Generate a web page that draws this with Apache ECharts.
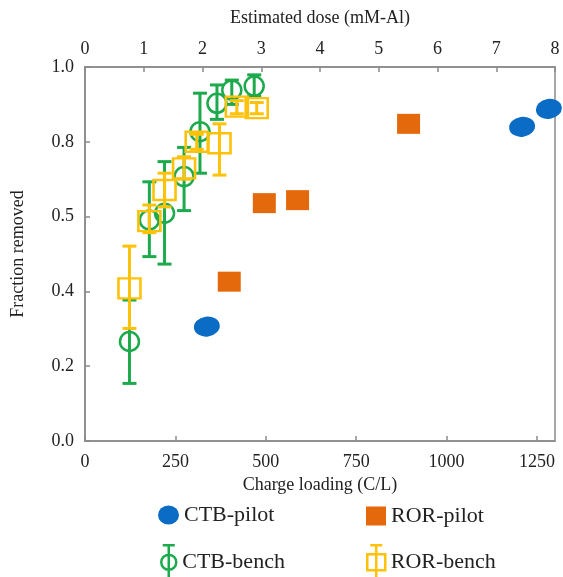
<!DOCTYPE html>
<html>
<head>
<meta charset="utf-8">
<script src="https://cdn.jsdelivr.net/npm/echarts@6/dist/echarts.min.js"></script>
<style>
  html, body { margin: 0; padding: 0; background: #fff; }
  #chart { width: 563px; height: 577px; }
</style>
</head>
<body>
<div id="chart"></div>
<script>
// values
const ctbPilotX = [337, 1209, 1283];
const ctbPilotY = [0.306, 0.840, 0.888];

const rorPilotX = [399, 496, 588, 895];
const rorPilotY = [0.426, 0.636, 0.644, 0.848];

const ctbBenchX = [123, 178, 220, 274, 318, 365, 406, 468];
const ctbBenchY = [0.266, 0.591, 0.609, 0.707, 0.827, 0.903, 0.938, 0.949];
const ctbBenchLow = [0.154, 0.493, 0.473, 0.616, 0.716, 0.860, 0.900, 0.922];
const ctbBenchHigh = [0.377, 0.693, 0.747, 0.785, 0.930, 0.952, 0.965, 0.979];

const rorBenchX = [123, 178, 220, 274, 309, 372, 420, 475];
const rorBenchY = [0.408, 0.588, 0.671, 0.729, 0.800, 0.796, 0.894, 0.890];
const rorBenchLow = [0.301, 0.557, 0.626, 0.700, 0.780, 0.711, 0.875, 0.875];
const rorBenchHigh = [0.521, 0.631, 0.716, 0.760, 0.820, 0.848, 0.910, 0.905];

// y tick labels as printed on the figure (third one reads 0.5)
const yTickLabels = ['0.0', '0.2', '0.4', '0.5', '0.8', '1.0'];

const blue = '#0a6cc4', orange = '#e4690c', green = '#1daa4c', yellow = '#ffc20a';
const font = "'Liberation Serif', 'Times New Roman', serif";

const ellipse = 'path://M0,10 A13,10 0 1 1 26,10 A13,10 0 1 1 0,10 Z';
const dot = 'path://M0,9 A10,9 0 1 1 20,9 A10,9 0 1 1 0,9 Z';
const circleBar = 'path://M8,0 L8,34 M2,0 L14,0 M2,34 L14,34 M0.5,17 A7.5,7.5 0 1 1 15.5,17 A7.5,7.5 0 1 1 0.5,17 Z';
const squareBar = 'path://M9,0 L9,34 M3,0 L15,0 M3,34 L15,34 M0,9 L18,9 L18,25 L0,25 Z';

const zip = (xs, ys) => xs.map((x, i) => [x, ys[i]]);
const zip3 = (xs, lo, hi) => xs.map((x, i) => [x, lo[i], hi[i]]);

function errorBar(color) {
  return function (params, api) {
    const x = api.value(0);
    const lo = api.coord([x, api.value(1)]);
    const hi = api.coord([x, api.value(2)]);
    const w = 7;
    const st = { stroke: color, lineWidth: 3 };
    return {
      type: 'group',
      children: [
        { type: 'line', shape: { x1: lo[0], y1: lo[1], x2: hi[0], y2: hi[1] }, style: st },
        { type: 'line', shape: { x1: lo[0] - w, y1: lo[1], x2: lo[0] + w, y2: lo[1] }, style: st },
        { type: 'line', shape: { x1: hi[0] - w, y1: hi[1], x2: hi[0] + w, y2: hi[1] }, style: st }
      ]
    };
  };
}

function oneLegend(name, icon, left, top, w, h, style) {
  return {
    left: left, top: top, padding: 0, itemWidth: w, itemHeight: h, itemGap: 0, itemTextGap: 4,
    textStyle: { fontFamily: font, fontSize: 22, color: '#222' },
    data: [{ name: name, icon: icon, itemStyle: style }]
  };
}

const chart = echarts.init(document.getElementById('chart'));

const axisLine = { lineStyle: { color: '#8a8a8a', width: 1.5 } };
const axisTick = { inside: true, length: 5, lineStyle: { color: '#8a8a8a', width: 1.5 } };
const labelStyle = { fontFamily: font, fontSize: 18, color: '#222' };

chart.setOption({
  animation: false,
  grid: { left: 85, right: 8, top: 67, bottom: 136, show: true, borderColor: '#8a8a8a', borderWidth: 1.5 },
  legend: [
    oneLegend('CTB-pilot', dot, 158, 504, 21, 20, { color: blue }),
    oneLegend('ROR-pilot', 'rect', 366, 505, 20, 19, { color: orange }),
    oneLegend('CTB-bench', circleBar, 160, 544, 17, 34, { color: 'rgba(0,0,0,0)', borderColor: green, borderWidth: 2.5 }),
    oneLegend('ROR-bench', squareBar, 366, 544, 19, 34, { color: 'rgba(0,0,0,0)', borderColor: yellow, borderWidth: 2.5 })
  ],
  xAxis: [
    {
      type: 'value', position: 'bottom', min: 0, max: 1300, interval: 250,
      name: 'Charge loading (C/L)', nameLocation: 'middle', nameGap: 33,
      nameTextStyle: labelStyle,
      axisLine: axisLine, axisTick: axisTick, splitLine: { show: false },
      axisLabel: Object.assign({ margin: 12, showMaxLabel: false, formatter: v => String(v) }, labelStyle)
    },
    {
      type: 'value', position: 'top', min: 0, max: 8, interval: 1,
      name: 'Estimated dose (mM-Al)', nameLocation: 'middle', nameGap: 40,
      nameTextStyle: labelStyle,
      axisLine: axisLine, axisTick: axisTick, splitLine: { show: false },
      axisLabel: Object.assign({ margin: 9 }, labelStyle)
    }
  ],
  yAxis: {
    type: 'value', min: 0, max: 1, interval: 0.2,
    name: 'Fraction removed', nameLocation: 'middle', nameGap: 58,
    nameTextStyle: labelStyle,
    axisLine: axisLine, axisTick: axisTick, splitLine: { show: false },
    axisLabel: Object.assign({
      margin: 11,
      formatter: v => yTickLabels[Math.round(v / 0.2)]
    }, labelStyle)
  },
  series: [
    {
      name: 'CTB-pilot', type: 'scatter', symbol: ellipse, symbolSize: [26, 20], symbolRotate: 8,
      itemStyle: { color: blue, opacity: 1 }, data: zip(ctbPilotX, ctbPilotY)
    },
    {
      name: 'ROR-pilot', type: 'scatter', symbol: 'rect', symbolSize: [23, 20],
      itemStyle: { color: orange, opacity: 1 }, data: zip(rorPilotX, rorPilotY)
    },
    {
      name: 'CTB-bench', type: 'custom', renderItem: errorBar(green), encode: { x: 0, y: [1, 2] },
      itemStyle: { color: green }, data: zip3(ctbBenchX, ctbBenchLow, ctbBenchHigh), z: 3
    },
    {
      name: 'CTB-bench', type: 'scatter', symbol: 'circle', symbolSize: 19,
      itemStyle: { color: 'rgba(0,0,0,0)', borderColor: green, borderWidth: 2.5, opacity: 1 },
      data: zip(ctbBenchX, ctbBenchY), z: 4
    },
    {
      name: 'ROR-bench', type: 'custom', renderItem: errorBar(yellow), encode: { x: 0, y: [1, 2] },
      itemStyle: { color: yellow }, data: zip3(rorBenchX, rorBenchLow, rorBenchHigh), z: 5
    },
    {
      name: 'ROR-bench', type: 'scatter', symbol: 'rect', symbolSize: [22, 20],
      itemStyle: { color: 'rgba(0,0,0,0)', borderColor: yellow, borderWidth: 2.5, opacity: 1 },
      data: zip(rorBenchX, rorBenchY), z: 6
    }
  ]
});
</script>
</body>
</html>
